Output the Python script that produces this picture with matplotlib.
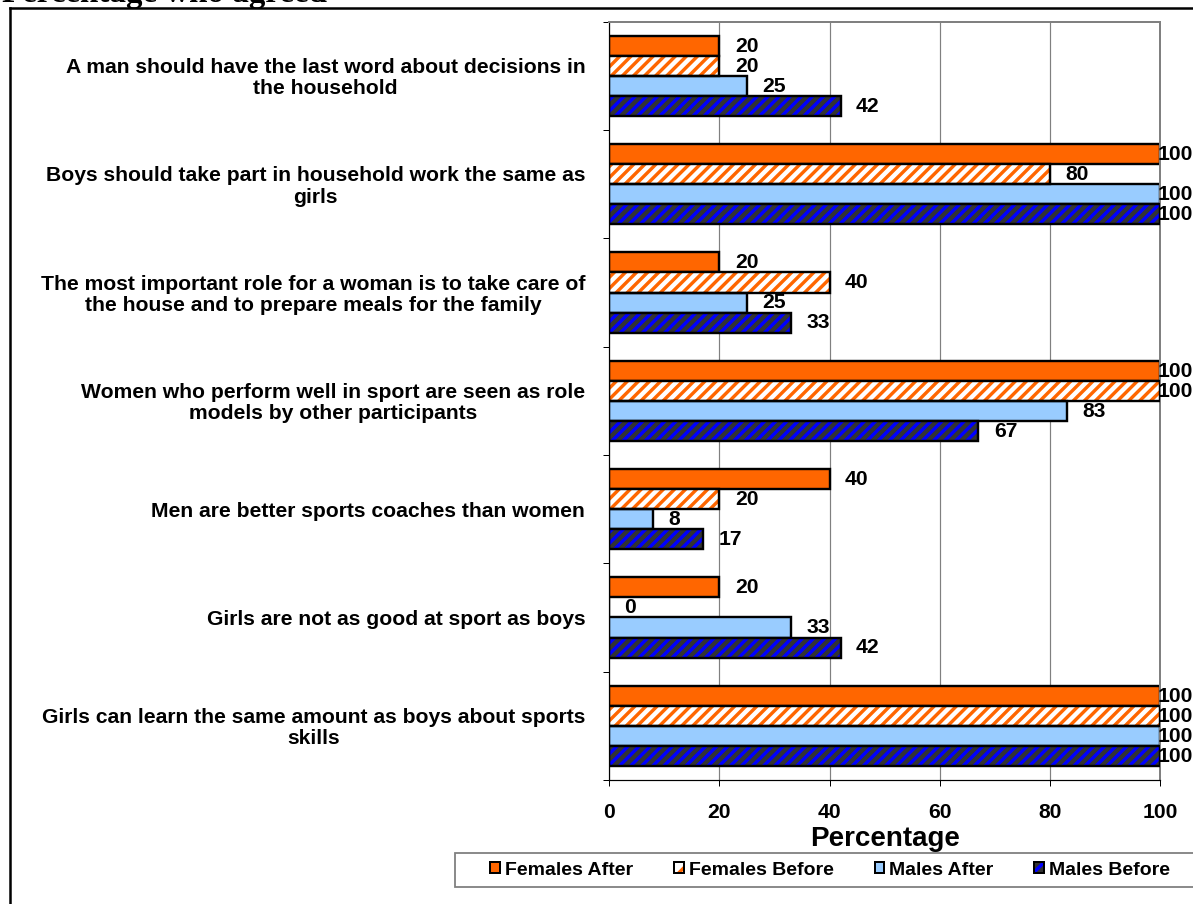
import matplotlib
matplotlib.use("Agg")
import matplotlib.pyplot as plt
from matplotlib.patches import Patch, Rectangle
from matplotlib.lines import Line2D
from matplotlib.legend_handler import HandlerTuple
import matplotlib.transforms as mtransforms
import numpy as np

# ---------------- data ----------------
categories = [
    "A man should have the last word about decisions in\nthe household",
    "Boys should take part in household work the same as\ngirls",
    "The most important role for a woman is to take care of\nthe house and to prepare meals for the family",
    "Women who perform well in sport are seen as role\nmodels by other participants",
    "Men are better sports coaches than women",
    "Girls are not as good at sport as boys",
    "Girls can learn the same amount as boys about sports\nskills",
]
series_names = ["Females After", "Females Before", "Males After", "Males Before"]
females_after = [20, 100, 20, 100, 40, 20, 100]
females_before = [20, 80, 40, 100, 20, 0, 100]
males_after = [25, 100, 25, 83, 8, 33, 100]
males_before = [42, 100, 33, 67, 17, 42, 100]
x_ticks = [0, 20, 40, 60, 80, 100]
x_label = "Percentage"
title_text = "Percentage who agreed"

# ---------------- style ----------------
DPI = 133.0
W, H = 1193, 904


def pt(px):
    return px * 72.0 / DPI


plt.rcParams["font.family"] = ["Liberation Sans", "DejaVu Sans"]
plt.rcParams["font.weight"] = "bold"
plt.rcParams["hatch.linewidth"] = pt(3.4)

ORANGE = "#FF6600"
LIGHTBLUE = "#99CCFF"
DARKGRAY = "#333333"
BLUE = "#0000FF"
GRID = "#808080"
HATCH = "////"
FS = 21.2  # main text size in px

fig = plt.figure(figsize=((W + 0.3) / DPI, (H + 0.3) / DPI), dpi=DPI)
fig.patch.set_facecolor("white")

left_px, right_px, top_px, bottom_px = 609, 1160, 22, 780
ax = fig.add_axes([left_px / W, 1 - bottom_px / H,
                   (right_px - left_px) / W, (bottom_px - top_px) / H])

n = len(categories)
y = np.arange(n)
h = 0.185
offsets = [-1.5 * h, -0.5 * h, 0.5 * h, 1.5 * h]
edge_lw = pt(2.4)

series = [females_after, females_before, males_after, males_before]
styles = [
    dict(face=ORANGE, hatch=None, hcol=None),
    dict(face="white", hatch=HATCH, hcol=ORANGE),
    dict(face=LIGHTBLUE, hatch=None, hcol=None),
    dict(face=DARKGRAY, hatch=HATCH, hcol=BLUE),
]

for vals, off, st in zip(series, offsets, styles):
    pos = y + off
    if st["hatch"]:
        ax.barh(pos, vals, height=h, color=st["face"], edgecolor=st["hcol"],
                hatch=st["hatch"], linewidth=0, zorder=2)
        ax.barh(pos, vals, height=h, fill=False, edgecolor="black",
                linewidth=edge_lw, zorder=3)
    else:
        ax.barh(pos, vals, height=h, color=st["face"], edgecolor="black",
                linewidth=edge_lw, zorder=2)
    for p, v in zip(pos, vals):
        lx = min(v + 2.8, 99.6)
        ax.text(lx, p, f"{v}", ha="left", va="center",
                fontsize=pt(FS), fontweight="bold", color="black",
                clip_on=False, zorder=5)

ax.set_xlim(0, 100)
ax.set_ylim(n - 0.5, -0.5)
ax.set_xticks(x_ticks)
ax.set_xticklabels([str(t) for t in x_ticks], fontsize=pt(FS), fontweight="bold")
ax.set_yticks(np.arange(-0.5, n, 1.0))
ax.set_yticklabels([])
ax.tick_params(axis="y", direction="out", length=pt(6), width=pt(1), color="black")
ax.tick_params(axis="x", direction="out", length=pt(6), width=pt(1), color="black",
               pad=pt(17))
ax.xaxis.grid(True, color=GRID, linewidth=pt(1.2), zorder=0)
ax.set_axisbelow(True)
for s in ["top", "right"]:
    ax.spines[s].set_color(GRID)
    ax.spines[s].set_linewidth(pt(2))
for s in ["left", "bottom"]:
    ax.spines[s].set_color("black")
    ax.spines[s].set_linewidth(pt(1.2))

# category labels
lab_trans = mtransforms.offset_copy(ax.get_yaxis_transform(), fig=fig,
                                    x=-pt(24), y=-pt(2), units="points")
for yi, cat in zip(y, categories):
    ax.text(0, yi, cat, transform=lab_trans, ha="right", va="center",
            multialignment="center", fontsize=pt(FS), fontweight="bold",
            linespacing=1.14)

# x label
fig.text((left_px + right_px) / 2 / W, 1 - 846 / H, x_label, ha="center",
         va="baseline", fontsize=pt(27.8), fontweight="bold")

# truncated title at the top of the canvas
fig.text(2 / W, 1 - 2 / H, title_text, ha="left", va="baseline",
         fontsize=pt(33), fontweight="bold",
         family=["Liberation Serif", "DejaVu Serif"])

# outer frame lines
fig.add_artist(Line2D([10 / W, 1.01], [1 - 8 / H, 1 - 8 / H], color="black",
                      linewidth=pt(2.5), transform=fig.transFigure))
fig.add_artist(Line2D([10 / W, 10 / W], [1 - 8 / H, -0.01], color="black",
                      linewidth=pt(2.5), transform=fig.transFigure))

# legend frame
lg_l, lg_r, lg_t, lg_b = 455, 1205, 853, 887
fig.add_artist(Rectangle((lg_l / W, 1 - lg_b / H), (lg_r - lg_l) / W,
                         (lg_b - lg_t) / H, transform=fig.transFigure,
                         facecolor="white", edgecolor=GRID, linewidth=pt(1.8)))

handles = []
for st in styles:
    if st["hatch"]:
        handles.append((Patch(facecolor=st["face"], edgecolor=st["hcol"],
                              hatch="/", linewidth=0),
                        Patch(facecolor="none", edgecolor="black", linewidth=pt(2))))
    else:
        handles.append(Patch(facecolor=st["face"], edgecolor="black", linewidth=pt(2)))

leg = fig.legend(handles, series_names, loc="center",
                 bbox_to_anchor=((lg_l + lg_r) / 2 / W, 1 - (lg_t + lg_b) / 2 / H),
                 ncol=4, frameon=False,
                 prop={"weight": "bold", "size": pt(19.5)},
                 handlelength=0.5, handleheight=0.5, handletextpad=0.25,
                 columnspacing=2.1, borderpad=0.2,
                 handler_map={tuple: HandlerTuple(ndivide=1, pad=0)})

fig.savefig("out.png", dpi=DPI, facecolor="white")
